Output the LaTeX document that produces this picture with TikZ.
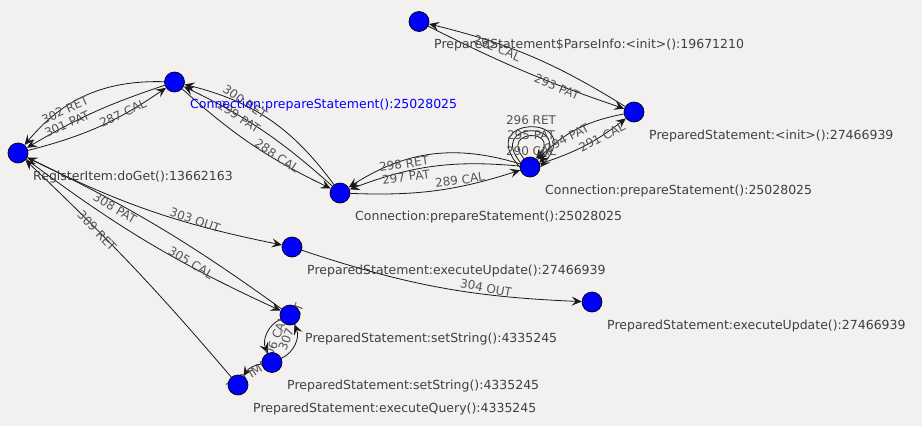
\documentclass[tikz,border=0pt]{standalone}
\usepackage{fontspec}
\setmainfont{DejaVu Sans}
\usetikzlibrary{arrows.meta}
\definecolor{bg}{HTML}{F2F1F0}
\definecolor{vblue}{HTML}{0000FF}
\definecolor{vlabel}{HTML}{3E3E46}
\definecolor{elabel}{HTML}{555555}
\definecolor{hilite}{HTML}{0000FF}
\pgfdeclarelayer{edges}
\pgfsetlayers{edges,main}
\begin{document}
\begin{tikzpicture}[x=1pt,y=-1pt,
  vertex/.style={circle, draw=black, line width=0.7pt, fill=vblue, minimum size=20pt, inner sep=0pt},
  vname/.style={anchor=base west, inner sep=0pt, text=vlabel, font=\fontsize{12.5}{14}\selectfont},
  edge/.style={draw=black!90, line width=0.8pt, -{Stealth[length=10pt,width=9pt,inset=4pt]}},
  elbl/.style={inner sep=0pt, text=elabel, font=\fontsize{12}{14}\selectfont}
]
\begin{pgfonlayer}{edges}
\fill[bg] (0,0) rectangle (922,426);
\end{pgfonlayer}
\useasboundingbox (0,0) rectangle (922,426);

% vertices
\node[vertex] (A) at (18,153) {};
\node[vertex] (B) at (174.5,82) {};
\node[vertex] (C) at (340,193) {};
\node[vertex] (D) at (530,167) {};
\node[vertex] (E) at (419,21.5) {};
\node[vertex] (F) at (634,112) {};
\node[vertex] (G) at (292,247) {};
\node[vertex] (H) at (592,302) {};
\node[vertex] (I) at (290,315) {};
\node[vertex] (J) at (272,362.5) {};
\node[vertex] (K) at (238,385) {};

% vertex names
\node[vname] (Alab) at (33,180) {RegisterItem:doGet():13662163};
\node[vname, text=hilite] (Blab) at (190,108) {Connection:prepareStatement():25028025};
\node[vname] (Clab) at (355,220) {Connection:prepareStatement():25028025};
\node[vname] (Dlab) at (545,194) {Connection:prepareStatement():25028025};
\node[vname] (Elab) at (434,48) {PreparedStatement\$ParseInfo:<init>():19671210};
\node[vname] (Flab) at (649,139) {PreparedStatement:<init>():27466939};
\node[vname] (Glab) at (307,274) {PreparedStatement:executeUpdate():27466939};
\node[vname] (Hlab) at (607,329) {PreparedStatement:executeUpdate():27466939};
\node[vname] (Ilab) at (305,342) {PreparedStatement:setString():4335245};
\node[vname] (Jlab) at (287,389) {PreparedStatement:setString():4335245};
\node[vname] (Klab) at (253,412) {PreparedStatement:executeQuery():4335245};

\begin{pgfonlayer}{edges}
% call / return edges
\draw[edge] (A) to[bend right=10] (B);
\draw[edge] (B) to[bend right=8] (C);
\draw[edge] (C) to[bend right=10] (D);
\draw[edge] (D.126) .. controls +(-25,-30) and +(25,-30) .. (D.54);
\draw[edge] (D) to[bend right=10] (F);
\draw[edge] (F) to[bend right=9] (E);
\draw[edge] (E) to[bend right=4] (F);
\draw[edge] (F) to[bend right=17] (D);
\draw[edge] (D.156) .. controls +(-34,-42) and +(34,-42) .. (D.24);
\draw[edge] (D.180) .. controls +(-47,-53) and +(47,-53) .. (D.0);
\draw[edge] (D) to[bend right=13] (C);
\draw[edge] (D) to[bend right=25] (C);
\draw[edge] (C) to[bend right=8] (B);
\draw[edge] (C) to[bend right=20] (B);
\draw[edge] (B) to[bend right=6] (A);
\draw[edge] (B) to[bend right=26] (A);
\draw[edge] (A) to[bend right=7.5] (G);
\draw[edge] (G) to[bend right=8] (H);
\draw[edge] (A) to[bend right=6] (I);
\draw[edge] (I) to[bend right=45] (J);
\draw[edge] (J) to[bend right=45] (I);
\draw[edge] (J) to[bend right=25] (K);
\draw[edge] (I) to[bend right=5] (A);
\draw[edge] (K) to[bend right=3] (A);

% edge labels, turned to the direction of their edge
\node[elbl, rotate=24.4]  (l287) at (123,113) {287 CAL};
\node[elbl, rotate=-33.8] (l288) at (277,156) {288 CAL};
\node[elbl, rotate=7.8]   (l289) at (460,180) {289 CAL};
\node[elbl]               (l290) at (531,151) {290 CAL};
\node[elbl, rotate=27.9]  (l291) at (602,137) {291 CAL};
\node[elbl, rotate=-22.8] (l292) at (497,48)  {292 CAL};
\node[elbl, rotate=-22.8] (l293) at (557,87)  {293 PAT};
\node[elbl, rotate=27.9]  (l294) at (567,138) {294 PAT};
\node[elbl]               (l295) at (531,135) {295 PAT};
\node[elbl]               (l296) at (531,120) {296 RET};
\node[elbl, rotate=7.8]   (l297) at (406,177) {297 PAT};
\node[elbl, rotate=7.8]   (l298) at (404,164) {298 RET};
\node[elbl, rotate=-33.8] (l299) at (239,117) {299 PAT};
\node[elbl, rotate=-33.8] (l300) at (245,102) {300 RET};
\node[elbl, rotate=24.4]  (l301) at (67,124)  {301 PAT};
\node[elbl, rotate=24.4]  (l302) at (65,110)  {302 RET};
\node[elbl, rotate=-18.9] (l303) at (195,220) {303 OUT};
\node[elbl, rotate=-10.4] (l304) at (486,288) {304 OUT};
\node[elbl, rotate=-30.8] (l305) at (191,263) {305 CAL};
\node[elbl, rotate=69.2]  (l306) at (275,340) {306 CAL};
\node[elbl, rotate=69.2]  (l307) at (291,327) {307 RET};
\node[elbl, rotate=33.5]  (l310) at (247,376) {310 IMP};
\node[elbl, rotate=-30.8] (l308) at (115,208) {308 PAT};
\node[elbl, rotate=-46.5] (l309) at (97,231)  {309 RET};
\end{pgfonlayer}
\end{tikzpicture}
\end{document}
